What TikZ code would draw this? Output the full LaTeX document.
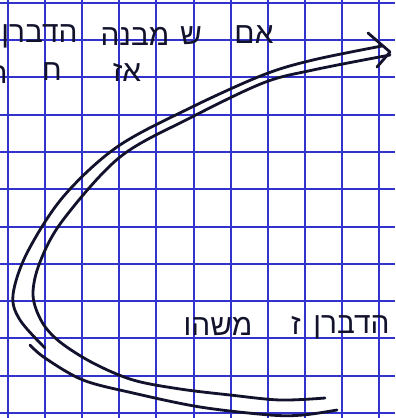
\documentclass[tikz,border=0pt]{standalone}
\usepackage{fontspec}
\newfontfamily\hebfont[Script=Hebrew]{Liberation Sans}
\TeXXeTstate=1
\definecolor{gridblue}{RGB}{50,50,205}
\definecolor{ink}{RGB}{18,18,45}

\begin{document}
\begin{tikzpicture}[x=0.02cm, y=-0.02cm]

% Define styles
\tikzstyle{gridline} = [draw=gridblue, line width=1.1pt]
\tikzstyle{stroke} = [draw=ink, line width=1.6pt, line cap=round, line join=round]
\tikzstyle{note} = [text=ink, font={\hebfont\fontsize{17}{20}\selectfont}, inner sep=0pt]

\useasboundingbox (0,0) rectangle (395,418);
\clip (0,0) rectangle (395,418);
\fill[white] (0,0) rectangle (395,418);

% Grid paper
\foreach \gx in {8,45,82,119,156,194,231,268,305,342,379}
  \draw[gridline] (\gx,0) -- (\gx,418);
\foreach \gy in {3,40,77,115,152,189,227,264,301,338,376,413}
  \draw[gridline] (0,\gy) -- (395,\gy);

% Top lines
\node (am) [note] at (254,35) {\beginR אם\endR};
\node (sh) [note] at (191,36) {\beginR ש\endR};
\node (mivne) [note] at (135,36) {\beginR מבנה\endR};
\node (davtop) [note, anchor=east] at (78,36) {\beginR הדברן\endR};
\node (az) [note] at (127,72) {\beginR אז\endR};
\node (het) [note] at (52,72) {\beginR ח\endR};
\node (cut) [note, anchor=east] at (8,75) {\beginR ר\endR};

% Bottom line
\node (mashu) [note] at (218,326) {\beginR משהו\endR};
\node (zayin) [note] at (296,325) {\beginR ז\endR};
\node (davbot) [note, anchor=west] at (313,327) {\beginR הדברן\endR};

% Curves
\draw[stroke] plot[smooth, tension=0.55] coordinates {(382,46) (313,60) (263,75) (190,108) (117,147) (63,197) (27,253) (13,295) (20,320) (45,348)};
\draw[stroke] plot[smooth, tension=0.55] coordinates {(30,345) (45,358) (83,380) (133,393) (200,407) (270,415) (303,415) (337,410)};
\draw[stroke] plot[smooth, tension=0.55] coordinates {(390,55) (313,70) (263,83) (190,118) (120,157) (63,220) (40,262) (33,295) (42,322) (60,342) (93,363) (133,380) (180,389) (230,395) (280,400) (325,398)};

% Arrow head
\coordinate (tip) at (390,52);
\draw[stroke] (368,33) -- (tip) -- (377,67);

\end{tikzpicture}
\end{document}
